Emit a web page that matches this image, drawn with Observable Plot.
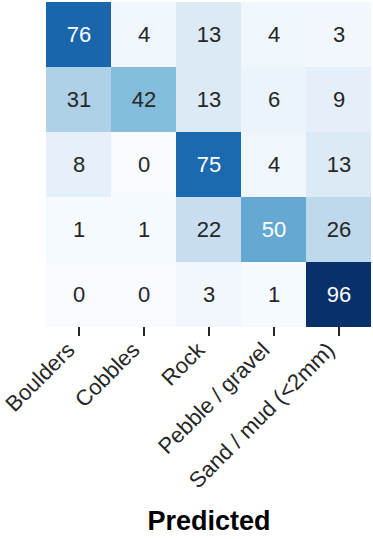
<!DOCTYPE html>
<html>
<head>
<meta charset="utf-8">
<script src="https://cdn.jsdelivr.net/npm/d3@7"></script>
<script src="https://cdn.jsdelivr.net/npm/@observablehq/plot@0.6"></script>
<style>
  html, body { margin: 0; padding: 0; background: #fff; }
  #chart svg { display: block; }
</style>
</head>
<body>
<div id="chart"></div>
<script>
const categories = ["Boulders", "Cobbles", "Rock", "Pebble / gravel", "Sand / mud (<2mm)"];
const row0 = [76, 4, 13, 4, 3];
const row1 = [31, 42, 13, 6, 9];
const row2 = [8, 0, 75, 4, 13];
const row3 = [1, 1, 22, 50, 26];
const row4 = [0, 0, 3, 1, 96];
const rows = [row0, row1, row2, row3, row4];
const xLabel = "Predicted";

const data = [];
rows.forEach((r, i) => r.forEach((v, j) => data.push({actual: categories[i], predicted: categories[j], value: v})));

const chart = Plot.plot({
  width: 373,
  height: 539,
  marginTop: 2,
  marginLeft: 46,
  marginRight: 2,
  marginBottom: 212,
  style: {fontFamily: "'Liberation Sans', Arial, sans-serif", background: "#fff", color: "#262626"},
  x: {domain: categories, padding: 0, label: null},
  y: {domain: categories, padding: 0, axis: null},
  color: {type: "linear", scheme: "blues", domain: [0, 96]},
  marks: [
    Plot.cell(data, {x: "predicted", y: "actual", fill: "value", inset: 0}),
    Plot.text(data, {x: "predicted", y: "actual", text: d => String(d.value), fontSize: 22,
      fill: d => d.value >= 50 ? "#ffffff" : "#262626"}),
    Plot.axisX({tickSize: 9, tickFormat: () => "", strokeWidth: 2, stroke: "#262626"}),
    Plot.axisX({tickSize: 0, tickRotate: -45, tickPadding: 12, dx: -8, dy: 7, fontSize: 22, fill: "#262626"}),
    Plot.text([xLabel], {frameAnchor: "bottom", dy: 202, fontWeight: "bold", fontSize: 27, fill: "#000"})
  ]
});
document.getElementById("chart").appendChild(chart);
</script>
</body>
</html>
